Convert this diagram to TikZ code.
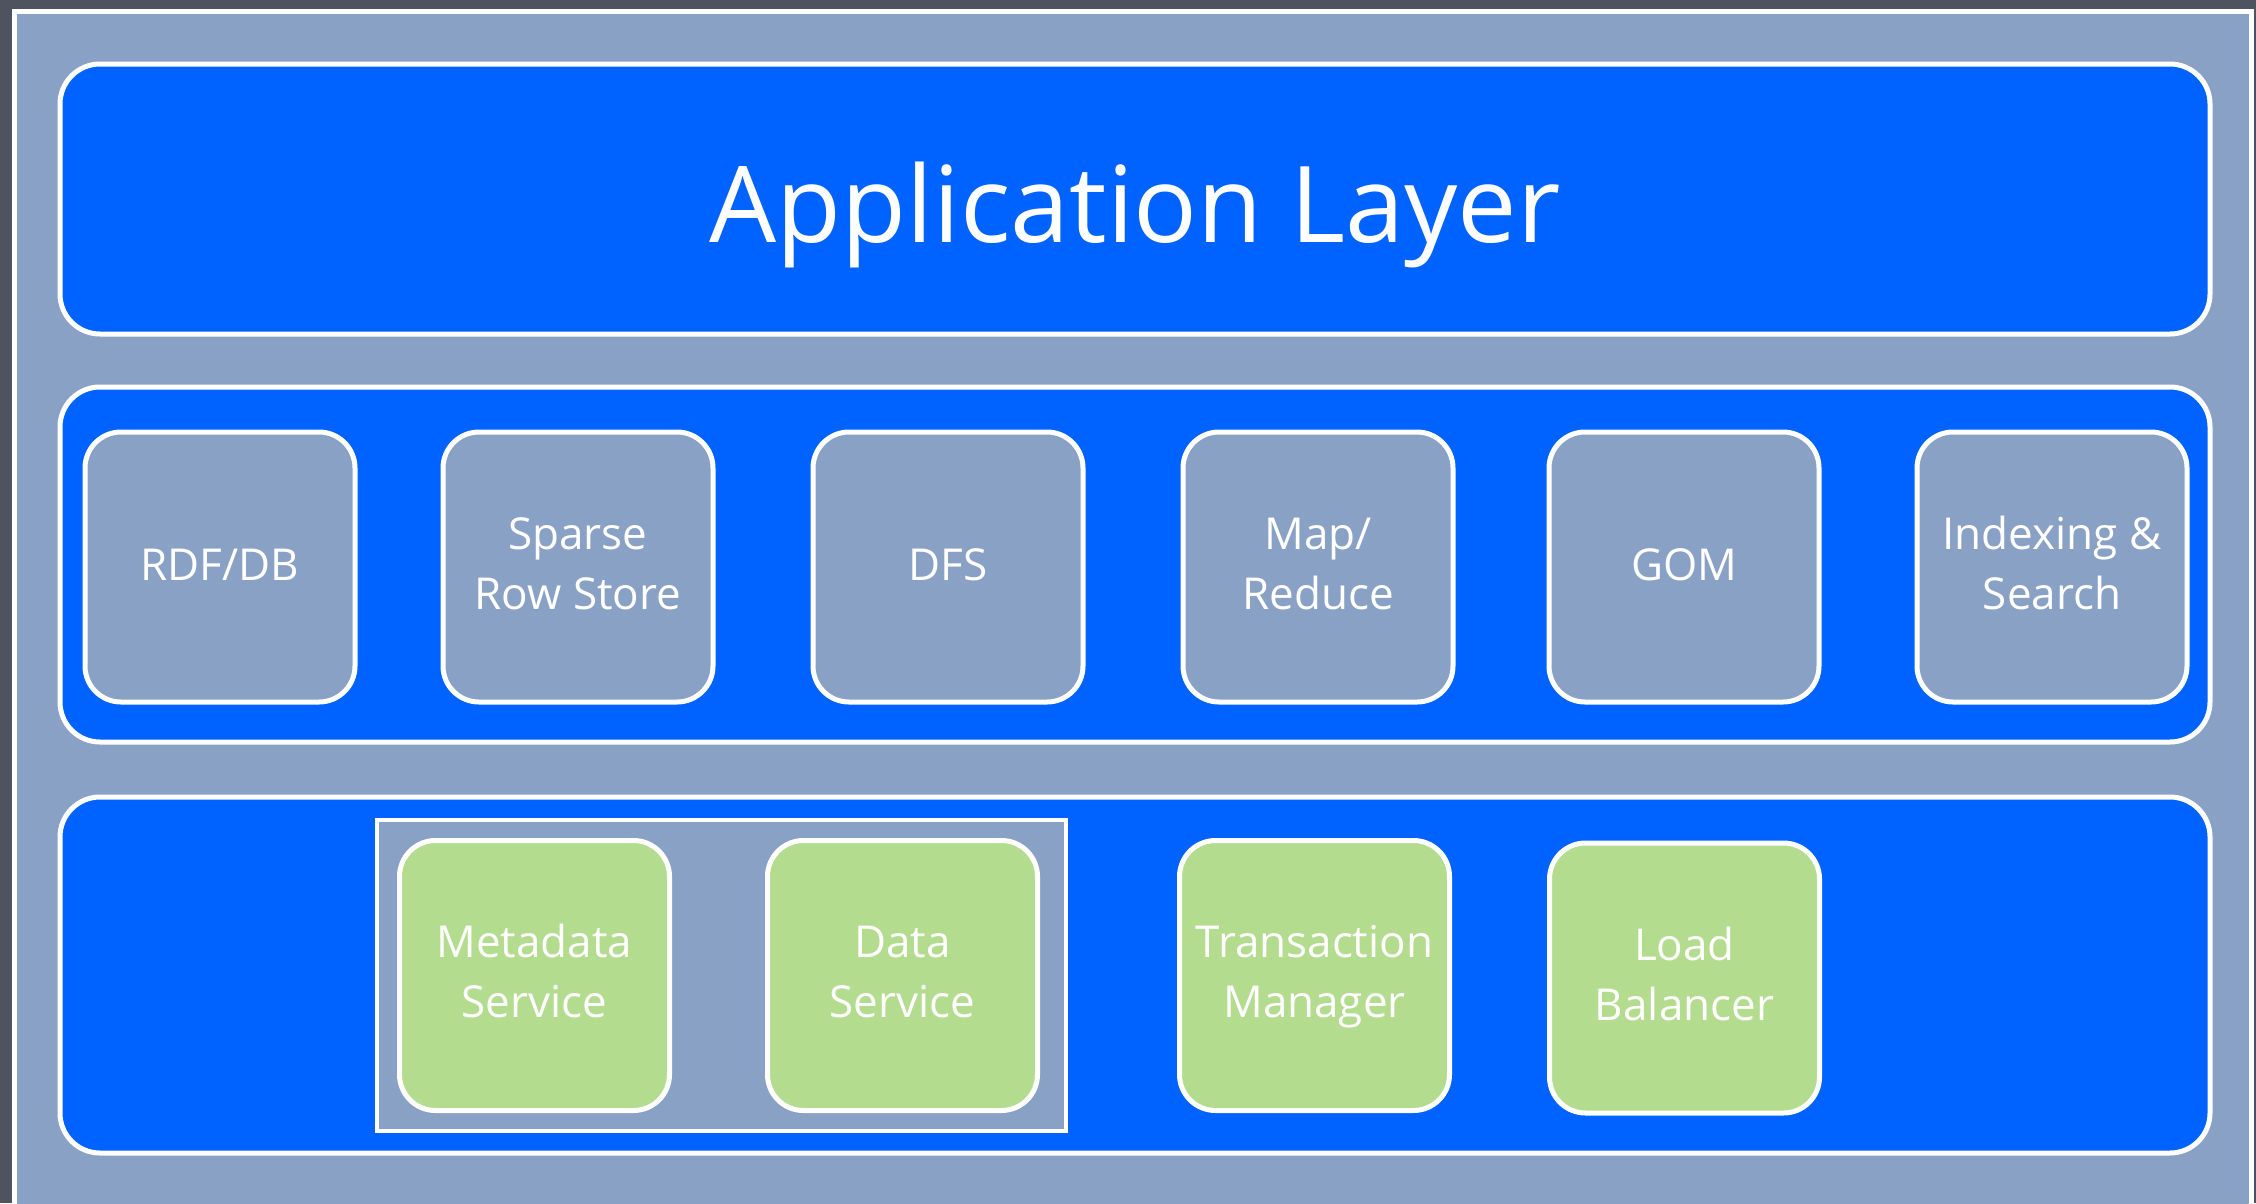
\documentclass[tikz,border=0pt]{standalone}
\usepackage{fontspec}
\setmainfont{Open Sans}
\definecolor{outerc}{HTML}{4E535F}
\definecolor{bgc}{HTML}{8AA1C6}
\definecolor{layerc}{HTML}{0062FF}
\definecolor{greenc}{HTML}{B3DC8F}
\newcommand\lblstrutone{\rule[-17pt]{0pt}{60pt}}
\tikzset{
  layer/.style={draw=white, line width=5pt, fill=layerc, rounded corners=40pt, minimum width=2150pt},
  comp/.style={draw=white, line width=5pt, fill=bgc, rounded corners=36pt, minimum width=270pt, minimum height=270pt,
    text=white, align=center, font=\fontsize{44}{60}\selectfont},
  oneline/.style={execute at begin node=\lblstrutone, execute at end node=\lblstrutone},
  twoline/.style={text height=84pt, text depth=0pt},
  svc/.style={comp, fill=greenc},
  grp/.style={draw=white, line width=4pt, fill=bgc, minimum width=689pt, minimum height=311pt},
}
\begin{document}
\begin{tikzpicture}[x=1pt,y=-1pt]
\useasboundingbox (0,0) rectangle (2256,1203);
\fill[outerc] (0,0) rectangle (2256,1203);
\draw[white, line width=5pt, fill=bgc] (14.5,11.5) rectangle (2251.5,1230);
% layers
\node[layer, minimum height=270pt, text=white, font=\fontsize{106}{120}\selectfont,
      text height=86pt, text depth=0pt] (app) at (1135,199) {Application Layer};
\node[layer, minimum height=355pt] (mid) at (1135,564.5) {};
\node[layer, minimum height=356pt] (bot) at (1135,975) {};
% middle components
\node[comp, oneline] (rdf) at (220,567) {RDF/DB};
\node[comp, twoline] (srs) at (578,567) {Sparse\\Row Store};
\node[comp, oneline] (dfs) at (948,567) {DFS};
\node[comp, twoline] (mr) at (1318,567) {Map/\\Reduce};
\node[comp, oneline] (gom) at (1684,567) {GOM};
\node[comp, twoline] (idx) at (2052,567) {Indexing \&\\Search};
% bottom services
\node[grp] (group) at (721.5,975.5) {};
\node[svc, twoline] (meta) at (534.5,975.5) {Metadata\\Service};
\node[svc, twoline] (data) at (902.5,975.5) {Data\\Service};
\node[svc, twoline] (tm) at (1314.5,975.5) {Transaction\\Manager};
\node[svc, twoline] (lb) at (1684.5,978) {Load\\Balancer};
\end{tikzpicture}
\end{document}
